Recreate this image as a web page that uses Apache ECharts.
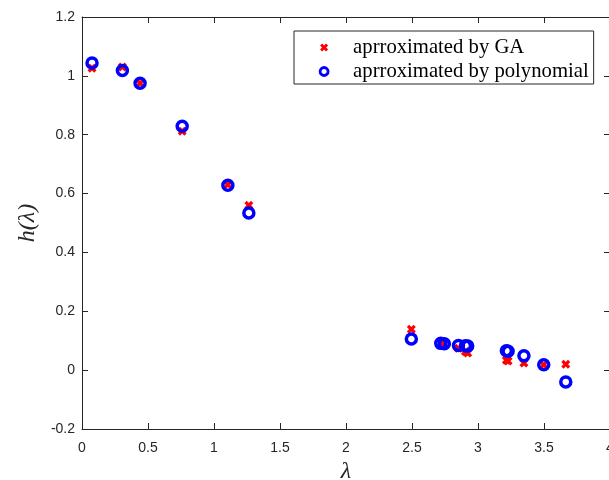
<!DOCTYPE html>
<html>
<head>
<meta charset="utf-8">
<script src="https://cdn.jsdelivr.net/npm/echarts@6/dist/echarts.min.js"></script>
<style>
  html, body { margin: 0; padding: 0; background: #fff; }
  #chart { width: 609px; height: 480px; }
</style>
</head>
<body>
<div id="chart"></div>
<script>
// lambda values and the two approximations of h(lambda)
const lambda = [0.076, 0.306, 0.440, 0.759, 1.105, 1.264, 2.495, 2.718, 2.745, 2.852, 2.905, 2.922, 3.215, 3.228, 3.348, 3.498, 3.665];
const gaValues = [1.026, 1.030, 0.975, 0.812, 0.630, 0.560, 0.139, 0.092, 0.089, 0.074, 0.063, 0.058, 0.034, 0.031, 0.024, 0.018, 0.020];
const polyValues = [1.044, 1.018, 0.975, 0.829, 0.628, 0.534, 0.106, 0.091, 0.090, 0.084, 0.083, 0.082, 0.066, 0.064, 0.049, 0.018, -0.040];

// axis ticks
const xTicks = ['0', '0.5', '1', '1.5', '2', '2.5', '3', '3.5', '4'];
const yTicks = ['-0.2', '0', '0.2', '0.4', '0.6', '0.8', '1', '1.2'];

const seriesNames = ['aprroximated by GA', 'aprroximated by polynomial'];

const axisColor = '#262626';
// bold "x" marker
const crossPath = 'path://M2.6,0 L5,2.4 L7.4,0 L10,2.6 L7.6,5 L10,7.4 L7.4,10 L5,7.6 L2.6,10 L0,7.4 L2.4,5 L0,2.6 Z';

const chart = echarts.init(document.getElementById('chart'), null, { renderer: 'canvas' });

const baseAxis = {
  axisLine: { show: true, onZero: false, lineStyle: { color: axisColor, width: 1 } },
  axisTick: { show: true, inside: true, length: 6, lineStyle: { color: axisColor, width: 1 } },
  splitLine: { show: false }
};

chart.setOption({
  animation: false,
  backgroundColor: '#fff',
  grid: { left: 82, right: -1, top: 17, bottom: 51, containLabel: false, outerBoundsMode: 'none' },
  xAxis: [
    Object.assign({}, baseAxis, {
      type: 'value', min: 0, max: 4, interval: 0.5, position: 'bottom',
      name: 'λ', nameLocation: 'middle', nameGap: 31,
      nameTextStyle: { fontFamily: 'Liberation Serif', fontStyle: 'italic', fontSize: 24, color: axisColor },
      axisLabel: {
        margin: 12, color: axisColor, fontFamily: 'Liberation Sans', fontSize: 14,
        formatter: v => xTicks[Math.round(v / 0.5)]
      }
    }),
    Object.assign({}, baseAxis, {
      type: 'value', min: 0, max: 4, interval: 0.5, position: 'top',
      axisLabel: { show: false }
    })
  ],
  yAxis: [
    Object.assign({}, baseAxis, {
      type: 'value', min: -0.2, max: 1.2, interval: 0.2, position: 'left',
      name: 'h(λ)', nameLocation: 'middle', nameGap: 42, nameRotate: 90,
      nameTextStyle: { fontFamily: 'Liberation Serif', fontStyle: 'italic', fontSize: 24, color: axisColor },
      axisLabel: {
        margin: 7, color: axisColor, fontFamily: 'Liberation Sans', fontSize: 14,
        formatter: v => yTicks[Math.round((v + 0.2) / 0.2)]
      }
    }),
    Object.assign({}, baseAxis, {
      type: 'value', min: -0.2, max: 1.2, interval: 0.2, position: 'right',
      axisLabel: { show: false }
    })
  ],
  legend: {
    orient: 'vertical',
    left: 294, top: 31,
    itemWidth: 8, itemHeight: 8, itemGap: 3,
    padding: [6, 5, 2, 24.7],
    borderColor: axisColor, borderWidth: 1, borderRadius: 0,
    backgroundColor: '#fff',
    textStyle: { fontFamily: 'Liberation Serif', fontSize: 20.7, lineHeight: 20, color: '#000', padding: [0, 0, 0, 20] },
    data: [
      { name: seriesNames[0], icon: crossPath, itemStyle: { color: '#ff0000' } },
      { name: seriesNames[1], icon: 'circle', itemStyle: { color: 'rgba(0,0,0,0)', borderColor: '#0000ff', borderWidth: 2.8 } }
    ]
  },
  series: [
    {
      name: seriesNames[0], type: 'scatter',
      symbol: crossPath, symbolSize: 9,
      itemStyle: { color: '#ff0000', opacity: 1 },
      data: lambda.map((x, i) => [x, gaValues[i]]),
      z: 2
    },
    {
      name: seriesNames[1], type: 'scatter',
      symbol: 'circle', symbolSize: 10,
      itemStyle: { color: 'rgba(0,0,0,0)', borderColor: '#0000ff', borderWidth: 3.5, opacity: 1 },
      data: lambda.map((x, i) => [x, polyValues[i]]),
      z: 3
    }
  ]
});
</script>
</body>
</html>
